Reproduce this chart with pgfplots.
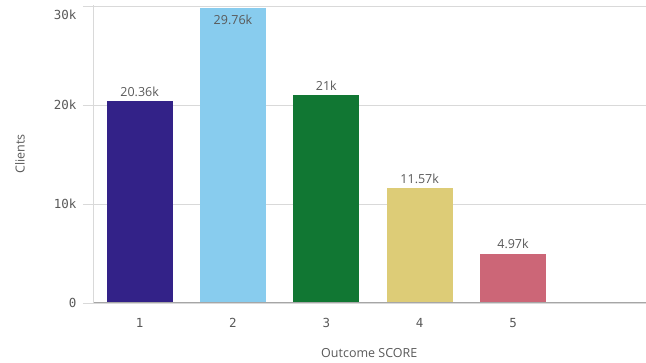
\documentclass[border=0pt]{standalone}
\usepackage{pgfplots}
\pgfplotsset{compat=1.18}
\usepackage{fontspec}
\setmainfont{Open Sans}
\newfontfamily\monofont{DejaVu Sans Mono}
\definecolor{txt}{HTML}{595959}
\definecolor{gridc}{HTML}{D9D9D9}
\definecolor{axc}{HTML}{A6A6A6}
\definecolor{c1}{HTML}{332288}
\definecolor{c2}{HTML}{88CCEE}
\definecolor{c3}{HTML}{117733}
\definecolor{c4}{HTML}{DDCC77}
\definecolor{c5}{HTML}{CC6677}
\begin{document}
\begin{tikzpicture}
\begin{axis}[
  scale only axis,
  width=553pt, height=298pt,
  xmin=0.5, xmax=6.42,
  ymin=0, ymax=30100,
  axis lines=left,
  axis line style={draw=none},
  ybar, bar width=66pt, bar shift=0pt,
  xtick={1,2,3,4,5},
  xticklabels={1,2,3,4,5},
  ytick={0,10000,20000},
  yticklabels={0,10k,20k},
  extra y ticks={30000},
  extra y tick labels={30k},
  extra y tick style={yticklabel style={yshift=-9pt}},
  scaled y ticks=false,
  ymajorgrids, grid style={gridc, line width=0.6pt},
  major tick length=10pt,
  ytick style={gridc, line width=0.6pt},
  xtick style={draw=none},
  tick align=outside,
  ticklabel style={font=\monofont\fontsize{12.5}{14}\selectfont, text=txt},
  yticklabel style={xshift=-3pt},
  xticklabel style={yshift=-2pt},
  xlabel={Outcome SCORE},
  ylabel={Clients},
  label style={font=\fontsize{12.5}{14}\selectfont, text=txt},
  xlabel style={at={(0.5,0)}, anchor=center, yshift=-50pt},
  ylabel style={at={(0,0.5)}, anchor=center, rotate=0, yshift=73pt},
  point meta=explicit symbolic,
  nodes near coords,
  every node near coord/.append style={font=\fontsize{12.5}{14}\selectfont, text=txt, yshift=1pt},
  clip=false,
]
\addplot[fill=c1, draw=none] coordinates {(1,20360) [20.36k]};
\addplot[fill=c2, draw=none, every node near coord/.append style={anchor=north, yshift=-4pt}] coordinates {(2,29760) [29.76k]};
\addplot[fill=c3, draw=none] coordinates {(3,21000) [21k]};
\addplot[fill=c4, draw=none] coordinates {(4,11570) [11.57k]};
\addplot[fill=c5, draw=none] coordinates {(5,4970) [4.97k]};
\draw[axc, line width=0.8pt] (axis cs:0.5,0) -- (axis cs:6.42,0);
\draw[gridc, line width=0.6pt] (axis cs:0.5,0) -- (axis cs:0.5,30100);
\end{axis}
\path ([shift={(-93pt,-60pt)}]current axis.south west) rectangle ([shift={(0pt,5pt)}]current axis.north east);
\end{tikzpicture}
\end{document}
